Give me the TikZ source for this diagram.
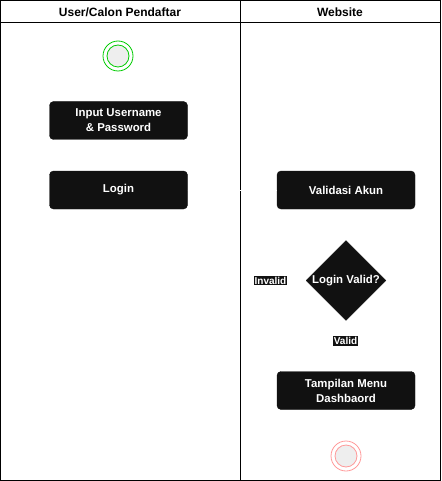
\documentclass[tikz,border=0pt]{standalone}
\usepackage{fontspec}
\setmainfont{Liberation Sans}
\usetikzlibrary{shapes.geometric}
\definecolor{boxfill}{HTML}{111111}
\definecolor{startc}{HTML}{00CC00}
\definecolor{endc}{HTML}{FF9999}
\definecolor{dotfill}{HTML}{EEEEEE}
\begin{document}
\begin{tikzpicture}[x=1pt,y=-1pt,
  actbox/.style={draw=boxfill,fill=boxfill,rounded corners=4pt,minimum width=138pt,minimum height=38pt,text=white,font=\bfseries\fontsize{11.4}{15}\selectfont,align=center,inner sep=0pt},
  decis/.style={diamond,draw=boxfill,fill=boxfill,minimum width=80pt,minimum height=80pt,inner sep=0pt,text=white,font=\bfseries\fontsize{11.4}{14}\selectfont},
  lbl/.style={fill=boxfill,text=white,inner xsep=0.6pt,inner ysep=1.2pt,font=\bfseries\fontsize{10}{11}\selectfont},
  hdr/.style={font=\bfseries\fontsize{12}{14}\selectfont},
  conn/.style={draw=white,line width=0.6pt},
  ring/.style={circle,minimum size=30pt,inner sep=0pt,line width=0.8pt}]
\useasboundingbox (0,0) rectangle (441,481);
\fill[white] (0,0) rectangle (441,481);
% lanes
\draw[line width=1pt] (0.5,0.5) rectangle (440.5,480.5);
\draw[line width=1pt] (0.5,23) -- (440.5,23);
\draw[line width=1pt] (240.5,0.5) -- (240.5,480.5);
\node[hdr] (h1) at (120,12) {User/Calon Pendaftar};
\node[hdr] (h2) at (340,12) {Website};
% nodes
\node[ring,draw=startc] (start) at (118,56) {};
\node[circle,minimum size=22pt,inner sep=0pt,draw=startc,fill=dotfill,line width=0.8pt] (starti) at (118,56) {};
\node[actbox] (input) at (118.5,120.5) {Input Username\\\& Password};
\node[actbox] (login) at (118.5,190) {Login};
\node[actbox] (valid) at (346,190) {Validasi Akun};
\node[decis] (dec) at (346,280.5) {Login Valid?};
\node[actbox] (menu) at (346,390.5) {Tampilan Menu\\Dashbaord};
\node[ring,draw=endc] (end) at (346,456) {};
\node[circle,minimum size=22pt,inner sep=0pt,draw=endc,fill=dotfill,line width=0.8pt] (endi) at (346,456) {};
% white connectors
\coordinate (bendinv) at (240.5,280.5);
\draw[conn] (login.east) -- (valid.west);
\draw[conn] (dec.west) -- (bendinv);
\node[lbl] (linv) at (270.5,280.5) {Invalid};
\node[lbl] (lval) at (345.5,341) {Valid};
\end{tikzpicture}
\end{document}
